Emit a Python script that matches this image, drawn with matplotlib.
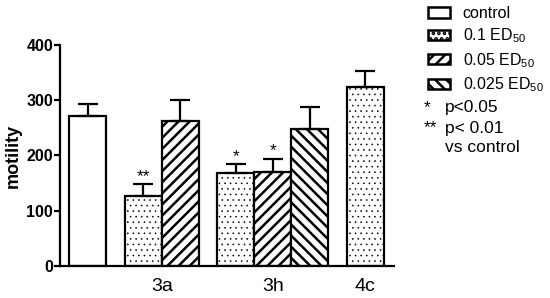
import numpy as np
import matplotlib
matplotlib.use('Agg')
import matplotlib.pyplot as plt
from matplotlib.patches import Patch

# Данные
bar_group = ['control', '3a', '3a', '3h', '3h', '3h', '4c']
bar_dose = ['control', '0.1', '0.05', '0.1', '0.05', '0.025', '0.1']
motility = [271, 126, 262, 168, 170, 248, 324]
sem = [22, 22, 38, 16, 24, 40, 29]
stars = ['', '**', '', '*', '*', '', '']

group_labels = ['3a', '3h', '4c']
y_ticks = [0, 100, 200, 300, 400]

dose_names = ['control', '0.1', '0.05', '0.025']
dose_labels = ['control', r'0.1 ED$_\mathregular{50}$', r'0.05 ED$_\mathregular{50}$',
               r'0.025 ED$_\mathregular{50}$']
note_marks = ['*', '**', '']
note_texts = ['p<0.05', 'p< 0.01', 'vs control']

# Стиль штриховки для каждой дозы
hatch_of = {'control': '', '0.1': '...', '0.05': '///', '0.025': '\\\\\\'}
hatch_lw = {'control': 1.0, '0.1': 0.4, '0.05': 1.8, '0.025': 1.8}


def set_hatch_lw(patch, lw):
    if hasattr(patch, 'set_hatch_linewidth'):
        patch.set_hatch_linewidth(lw)


def main():
    plt.rcParams['font.family'] = ['Liberation Sans', 'DejaVu Sans']
    plt.rcParams['mathtext.fontset'] = 'custom'
    plt.rcParams['mathtext.rm'] = 'Liberation Sans'

    # Позиции столбцов: внутри группы шаг 1, между группами 1.5
    x = []
    pos = 0.0
    for i, g in enumerate(bar_group):
        if i > 0:
            pos += 1.0 if g == bar_group[i - 1] else 1.5
        x.append(pos)
    x = np.array(x)
    centers = [x[[j for j, g in enumerate(bar_group) if g == lab]].mean() for lab in group_labels]

    fig = plt.figure(figsize=(5.5, 2.98), dpi=100)
    ax = fig.add_axes([0.109, 0.1074, 0.607, 0.7416])

    for xi, val, dose in zip(x, motility, bar_dose):
        plt.rcParams['hatch.linewidth'] = hatch_lw[dose]
        b = ax.bar(xi, val, width=1.0, color='white', edgecolor='black',
                   linewidth=1.6, hatch=hatch_of[dose], zorder=2)
        set_hatch_lw(b[0], hatch_lw[dose])

    ax.errorbar(x, motility, yerr=[np.zeros(len(sem)), sem], fmt='none',
                ecolor='black', elinewidth=1.6, capsize=7, capthick=1.6, zorder=3)

    for xi, val, err, s in zip(x, motility, sem, stars):
        if s:
            ax.text(xi, val + err + 1, s, ha='center', va='bottom', fontsize=12.5)

    ax.set_xlim(-0.757, 8.27)
    ax.set_ylim(0, 400)
    ax.set_yticks(y_ticks)
    ax.set_yticklabels([str(t) for t in y_ticks], fontweight='bold', fontsize=11.5)
    ax.set_xticks(centers)
    ax.set_xticklabels(group_labels, fontsize=14)
    ax.tick_params(axis='x', length=0, pad=9)
    ax.tick_params(axis='y', length=4, width=1.6, pad=1)
    ax.set_ylabel('motility', fontweight='bold', fontsize=13, labelpad=3)

    for side in ['top', 'right']:
        ax.spines[side].set_visible(False)
    for side in ['left', 'bottom']:
        ax.spines[side].set_linewidth(1.6)

    # Легенда
    handles = []
    for d in dose_names:
        plt.rcParams['hatch.linewidth'] = hatch_lw[d]
        p = Patch(facecolor='white', edgecolor='black', linewidth=1.8, hatch=hatch_of[d])
        set_hatch_lw(p, hatch_lw[d])
        handles.append(p)
    fig.legend(handles, dose_labels, loc='upper left', bbox_to_anchor=(0.773, 0.99),
               frameon=False, fontsize=11.5, handlelength=1.35, handleheight=0.6,
               handletextpad=0.8, labelspacing=0.35, borderpad=0.2, borderaxespad=0)

    # Пояснения к звёздочкам
    for k, (m, t) in enumerate(zip(note_marks, note_texts)):
        yy = 1 - (108 + 20 * k) / 298
        fig.text(424 / 550, yy, m, ha='left', va='center', fontsize=12.5)
        fig.text(445 / 550, yy, t, ha='left', va='center', fontsize=12.5)

    fig.savefig('out.png', dpi=100)
    plt.close(fig)


if __name__ == "__main__":
    main()
